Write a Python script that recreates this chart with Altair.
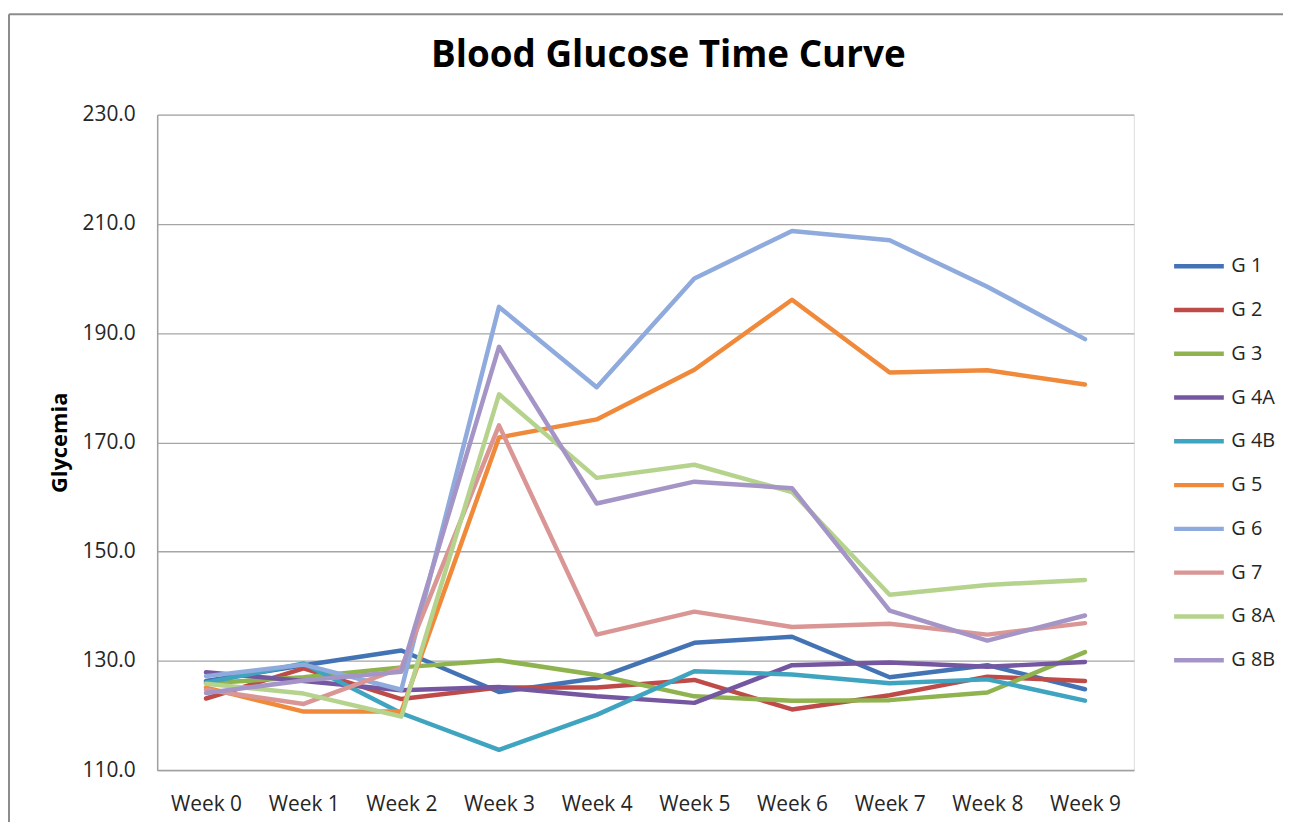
import altair as alt
import pandas as pd

weeks = ["Week 0", "Week 1", "Week 2", "Week 3", "Week 4",
         "Week 5", "Week 6", "Week 7", "Week 8", "Week 9"]
series = ["G 1", "G 2", "G 3", "G 4A", "G 4B", "G 5", "G 6", "G 7", "G 8A", "G 8B"]
colors = ["#4473B5", "#BE4B48", "#8FB34E", "#7457A0", "#3FA4C0",
          "#F08A3A", "#8FAADC", "#D99694", "#B5D38D", "#A595C6"]

g1 = [126.3, 129.2, 131.9, 124.3, 126.8, 133.3, 134.4, 127.0, 129.2, 124.8]
g2 = [123.1, 128.6, 123.0, 125.1, 125.1, 126.5, 121.1, 123.7, 127.1, 126.3]
g3 = [125.9, 127.0, 128.8, 130.1, 127.4, 123.5, 122.7, 122.8, 124.2, 131.6]
g4a = [127.9, 126.3, 124.6, 125.2, 123.5, 122.3, 129.2, 129.7, 128.9, 129.8]
g4b = [126.0, 129.5, 120.4, 113.7, 120.1, 128.1, 127.5, 125.9, 126.6, 122.7]
g5 = [125.1, 120.7, 120.7, 170.9, 174.2, 183.3, 196.1, 182.8, 183.2, 180.6]
g6 = [127.2, 129.3, 124.7, 194.8, 180.1, 200.0, 208.7, 207.0, 198.5, 188.9]
g7 = [124.7, 122.1, 128.7, 173.1, 134.8, 139.0, 136.2, 136.8, 134.8, 136.9]
g8a = [125.8, 124.0, 119.8, 178.8, 163.5, 165.9, 160.9, 142.1, 143.9, 144.8]
g8b = [124.1, 126.4, 128.0, 187.5, 158.8, 162.8, 161.6, 139.2, 133.7, 138.3]

y_ticks = [110, 130, 150, 170, 190, 210, 230]

values = [g1, g2, g3, g4a, g4b, g5, g6, g7, g8a, g8b]
rows = []
for s, vals in zip(series, values):
    for i, (w, v) in enumerate(zip(weeks, vals)):
        rows.append({"group": s, "week": w, "idx": i, "value": v})
df = pd.DataFrame(rows)

FONT = "Open Sans"

lines = alt.Chart(df).mark_line(strokeWidth=4.5, strokeJoin="round", strokeCap="round").encode(
    x=alt.X("week:N", sort=weeks,
            axis=alt.Axis(title=None, labelAngle=0, grid=False, labelPadding=24,
                          domainColor="#A0A0A0", domainWidth=1.5, ticks=False,
                          labelFontSize=21, labelFont=FONT, labelColor="#262626")),
    y=alt.Y("value:Q",
            scale=alt.Scale(domain=[110, 230], nice=False, zero=False),
            axis=alt.Axis(values=y_ticks, format=".1f", title="Glycemia",
                          grid=True, gridColor="#A6A6A6", gridWidth=1.3,
                          ticks=False, labelPadding=22,
                          domainColor="#A0A0A0", domainWidth=1.5,
                          labelFontSize=21, labelFont=FONT, labelColor="#262626",
                          titleFont=FONT, titleFontSize=22, titleFontWeight="bold",
                          titleColor="#000000", titleX=-98, titleY=329.5,
                          titleAngle=-90, titleAlign="center", titleBaseline="middle")),
    color=alt.Color("group:N", sort=series,
                    scale=alt.Scale(domain=series, range=colors),
                    legend=alt.Legend(orient="none", legendX=1020, legendY=125,
                                      title=None, symbolType="stroke",
                                      symbolSize=2500, symbolStrokeWidth=4.5,
                                      labelFontSize=20, labelFont=FONT,
                                      labelColor="#262626", rowPadding=6,
                                      labelOffset=5, padding=0,
                                      direction="vertical")),
    order=alt.Order("idx:Q"),
)

frame_data = pd.DataFrame({"a": [0]})
frame_left = alt.Chart(frame_data).mark_rule(stroke="#8C8C8C", strokeWidth=2).encode(
    x=alt.value(-149), y=alt.value(-101), y2=alt.value(730),
)
frame_top = alt.Chart(frame_data).mark_rule(stroke="#8C8C8C", strokeWidth=2).encode(
    x=alt.value(-149), x2=alt.value(1300), y=alt.value(-101),
)

chart = alt.layer(frame_left, frame_top, lines).properties(
    width=982, height=659,
    title=alt.Title("Blood Glucose Time Curve", fontSize=37, font=FONT,
                    fontWeight="bold", color="#000000", anchor="middle",
                    frame="group", dx=23, offset=-62),
    autosize=alt.AutoSizeParams(type="none"),
    padding={"left": 150, "top": 105, "right": 150, "bottom": 50},
).configure_view(strokeOpacity=0).configure(background="white")

chart.save("out.html", embed_options={"renderer": "svg", "actions": False})
